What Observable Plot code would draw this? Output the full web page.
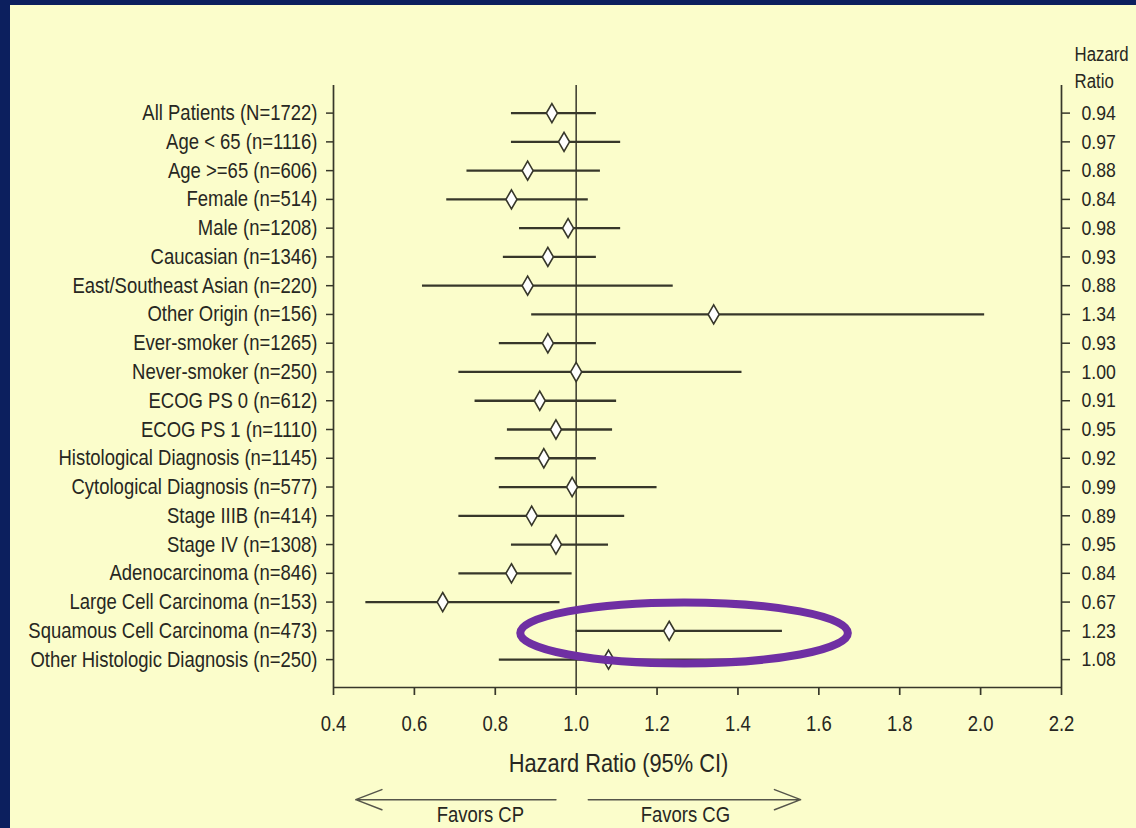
<!DOCTYPE html>
<html>
<head>
<meta charset="utf-8">
<script src="https://cdn.jsdelivr.net/npm/d3@7"></script>
<script src="https://cdn.jsdelivr.net/npm/@observablehq/plot@0.6"></script>
<style>
  html, body { margin: 0; padding: 0; background: #0c1f5e; width: 1136px; height: 828px; overflow: hidden; }
  #chart { position: absolute; left: 10px; top: 5px; }
  #chart svg { display: block; }
</style>
</head>
<body>
<div id="chart"></div>
<script>
// ---- data ----
const subgroups = [
  "All Patients (N=1722)",
  "Age < 65 (n=1116)",
  "Age >=65 (n=606)",
  "Female (n=514)",
  "Male (n=1208)",
  "Caucasian (n=1346)",
  "East/Southeast Asian (n=220)",
  "Other Origin (n=156)",
  "Ever-smoker (n=1265)",
  "Never-smoker (n=250)",
  "ECOG PS 0 (n=612)",
  "ECOG PS 1 (n=1110)",
  "Histological Diagnosis (n=1145)",
  "Cytological Diagnosis (n=577)",
  "Stage IIIB (n=414)",
  "Stage IV (n=1308)",
  "Adenocarcinoma (n=846)",
  "Large Cell Carcinoma (n=153)",
  "Squamous Cell Carcinoma (n=473)",
  "Other Histologic Diagnosis (n=250)"
];
const hazardRatio = [0.94, 0.97, 0.88, 0.84, 0.98, 0.93, 0.88, 1.34, 0.93, 1.00, 0.91, 0.95, 0.92, 0.99, 0.89, 0.95, 0.84, 0.67, 1.23, 1.08];
const ciLow  = [0.84, 0.84, 0.73, 0.68, 0.86, 0.82, 0.62, 0.89, 0.81, 0.71, 0.75, 0.83, 0.80, 0.81, 0.71, 0.84, 0.71, 0.48, 1.00, 0.81];
const ciHigh = [1.05, 1.11, 1.06, 1.03, 1.11, 1.05, 1.24, 2.01, 1.05, 1.41, 1.10, 1.09, 1.05, 1.20, 1.12, 1.08, 0.99, 0.96, 1.51, 1.45];
const xTicks = [0.4, 0.6, 0.8, 1.0, 1.2, 1.4, 1.6, 1.8, 2.0, 2.2];
const xDomain = [0.4, 2.2];
const referenceHR = 1.0;
const favorLabels = ["Favors CP", "Favors CG"];
const favorX = [0.763, 1.270];
const arrowFrom = [0.95, 1.03];
const arrowTo = [0.455, 1.555];
const highlighted = "Squamous Cell Carcinoma (n=473)";

// ---- table ----
const rows = subgroups.map((label, i) => ({ i, label, hr: hazardRatio[i], lo: ciLow[i], hi: ciHigh[i] }));
const yDomain = [-0.96, 19.97];
const arrowRow = 23.87;
const arrows = arrowFrom.map((x1, k) => ({ x1, x2: arrowTo[k] }));
const favors = favorLabels.map((t, k) => ({ t, x: favorX[k] }));

const FONT = '"Liberation Sans", Arial, sans-serif';
const INK = "#272722";
const LINE = "#37372a";
const SQUEEZE = 0.84; // the reference lettering is horizontally condensed

const plot = Plot.plot({
  width: 1126,
  height: 823,
  marginLeft: 323,
  marginRight: 75,
  marginTop: 80,
  marginBottom: 141,
  style: { background: "#fbfdcb", fontFamily: FONT, color: INK, overflow: "visible" },
  x: { domain: xDomain, label: null },
  y: { domain: yDomain, reverse: true, label: null },
  marks: [
    // frame (left, right, bottom)
    Plot.ruleX(xDomain, { stroke: LINE, strokeWidth: 1.7 }),
    Plot.ruleY([yDomain[1]], { stroke: LINE, strokeWidth: 1.7 }),
    Plot.ruleX([referenceHR], { stroke: LINE, strokeWidth: 1.5 }),
    Plot.axisX({ ticks: xTicks, tickFormat: d3.format(".1f"), tickSize: 8, tickPadding: 20, fontSize: 22, stroke: LINE, strokeWidth: 1.7, fill: INK }),
    Plot.axisY({ anchor: "left", ticks: rows.map(d => d.i), tickFormat: i => subgroups[i], tickSize: 7, tickPadding: 9, fontSize: 22, stroke: LINE, strokeWidth: 1.5, fill: INK }),
    Plot.axisY({ anchor: "right", ticks: rows.map(d => d.i), tickFormat: i => hazardRatio[i].toFixed(2), tickSize: 8, tickPadding: 12, fontSize: 21, stroke: LINE, strokeWidth: 1.5, fill: INK }),
    // confidence intervals
    Plot.ruleY(rows, { y: "i", x1: "lo", x2: "hi", stroke: LINE, strokeWidth: 2.3 }),
    Plot.dot(rows, { x: "hr", y: "i", symbol: "diamond", r: 5.8, fill: "white", stroke: LINE, strokeWidth: 1.6 }),
    // header at right
    Plot.text(["Hazard\nRatio"], { frameAnchor: "top-right", dx: 13, dy: -20, textAnchor: "start", lineAnchor: "middle", lineHeight: 1.38, fontSize: 20, fill: INK }),
    // x-axis title
    Plot.text(["Hazard Ratio (95% CI)"], { frameAnchor: "bottom-left", dx: 285, dy: 76, textAnchor: "middle", lineAnchor: "middle", fontSize: 26, fill: INK }),
    // favors arrows and labels
    Plot.arrow(arrows, { x1: "x1", x2: "x2", y1: () => arrowRow, y2: () => arrowRow, stroke: "#55554a", strokeWidth: 1.5, headLength: 28, headAngle: 42 }),
    Plot.text(favors, { x: "x", text: "t", frameAnchor: "bottom", dy: 127, lineAnchor: "middle", fontSize: 22, fill: INK })
  ]
});

// highlight ellipse around the squamous row, positioned through the scales
const sx = plot.scale("x"), sy = plot.scale("y");
const rowIdx = subgroups.indexOf(highlighted);
const ex = (ciLow[rowIdx] + ciHigh[rowIdx]) / 2 + 0.013;
const cx = sx.apply(ex), cy = sy.apply(rowIdx + 0.09);
const rx = sx.apply(ex + 0.405) - cx;
const ry = sy.apply(rowIdx + 0.09 + 1.06) - cy;
d3.select(plot).append("ellipse")
  .attr("cx", cx).attr("cy", cy).attr("rx", rx).attr("ry", ry)
  .attr("fill", "none").attr("stroke", "#6f2fa3").attr("stroke-width", 8);

document.getElementById("chart").appendChild(plot);

// condense every label horizontally (the reference lettering is narrow)
d3.select(plot).selectAll("text").each(function () {
  const spans = this.querySelectorAll("tspan");
  const targets = spans.length ? Array.from(spans) : [this];
  for (const el of targets) {
    const w = el.getComputedTextLength();
    if (w > 0) {
      el.setAttribute("textLength", (w * SQUEEZE).toFixed(2));
      el.setAttribute("lengthAdjust", "spacingAndGlyphs");
    }
  }
});
</script>
</body>
</html>
